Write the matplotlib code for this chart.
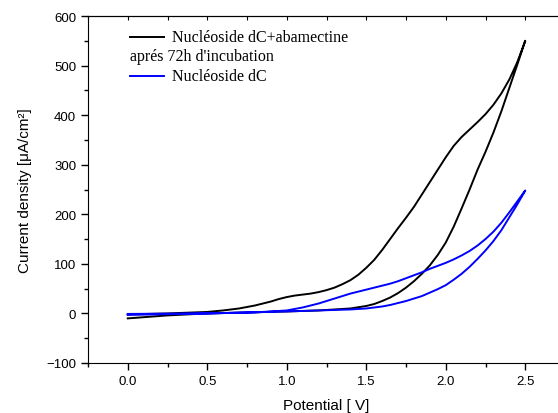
import matplotlib
matplotlib.use("Agg")
import matplotlib.pyplot as plt
from matplotlib.lines import Line2D
from matplotlib.ticker import MultipleLocator, FormatStrFormatter

# black loop: dC + abamectine after 72h (upper branch, then lower branch back)
black_up_x = [0.0, 0.25, 0.5, 0.6, 0.7, 0.8, 0.9, 0.95, 1.0, 1.05, 1.1, 1.15, 1.2, 1.25, 1.3, 1.35,
              1.4, 1.45, 1.5, 1.55, 1.6, 1.65, 1.7, 1.75, 1.8, 1.85, 1.9, 1.95, 2.0, 2.05, 2.1,
              2.15, 2.2, 2.25, 2.3, 2.35, 2.4, 2.45, 2.5]
black_up_y = [-2, 0, 3, 6, 10, 16, 24, 29, 33, 36, 38, 40, 43, 47, 52, 59,
              67, 78, 92, 108, 128, 150, 172, 193, 215, 240, 265, 290, 315, 338, 356,
              371, 386, 402, 421, 444, 472, 507, 550]
black_lo_x = [2.5, 2.45, 2.4, 2.35, 2.3, 2.25, 2.2, 2.15, 2.1, 2.05, 2.0, 1.95, 1.9, 1.85, 1.8,
              1.75, 1.7, 1.65, 1.6, 1.55, 1.5, 1.4, 1.3, 1.2, 1.0, 0.75, 0.5, 0.25, 0.0]
black_lo_y = [550, 502, 455, 408, 365, 326, 290, 250, 212, 175, 143, 118, 97, 80, 65,
              52, 41, 32, 25, 19, 15, 10, 8, 6, 4, 2, 0, -4, -10]

# blue loop: dC alone
blue_up_x = [0.0, 0.5, 0.8, 0.9, 1.0, 1.05, 1.1, 1.15, 1.2, 1.25, 1.3, 1.35, 1.4, 1.45, 1.5, 1.55,
             1.6, 1.65, 1.7, 1.75, 1.8, 1.85, 1.9, 1.95, 2.0, 2.05, 2.1, 2.15, 2.2, 2.25, 2.3,
             2.35, 2.4, 2.45, 2.5]
blue_up_y = [-1, 0, 2, 4, 6, 9, 12, 16, 20, 25, 30, 35, 40, 44, 48, 52,
             56, 60, 65, 71, 77, 83, 90, 96, 102, 109, 117, 126, 137, 150, 165,
             183, 204, 226, 248]
blue_lo_x = [2.5, 2.45, 2.4, 2.35, 2.3, 2.25, 2.2, 2.15, 2.1, 2.05, 2.0, 1.95, 1.9, 1.85, 1.8,
             1.75, 1.7, 1.65, 1.6, 1.5, 1.4, 1.2, 1.0, 0.5, 0.0]
blue_lo_y = [248, 220, 194, 168, 146, 127, 110, 94, 80, 68, 57, 49, 42, 35, 30,
             25, 21, 17, 14, 10, 8, 6, 4, 0, -3]

label_black_1 = "Nucléoside dC+abamectine"
label_black_2 = "aprés 72h d'incubation"
label_blue = "Nucléoside dC"

fig = plt.figure(figsize=(5.58, 4.14), dpi=100)
W, H = 558, 414
ax = fig.add_axes([88 / W, 1 - 364 / H, (565 - 88) / W, (364 - 17) / H])

ax.plot(black_up_x + black_lo_x, black_up_y + black_lo_y, color="black", lw=1.4)
ax.plot(blue_up_x + blue_lo_x, blue_up_y + blue_lo_y, color="#0000ff", lw=1.4)

ax.set_xlim(-0.25, 2.75)
ax.set_ylim(-100, 600)
ax.xaxis.set_major_locator(MultipleLocator(0.5))
ax.xaxis.set_minor_locator(MultipleLocator(0.25))
ax.yaxis.set_major_locator(MultipleLocator(100))
ax.yaxis.set_minor_locator(MultipleLocator(50))
ax.xaxis.set_major_formatter(FormatStrFormatter("%.1f"))

ax.tick_params(which="both", direction="out", labelsize=9.5, width=1,
               labelfontfamily="Liberation Sans", top=False, right=False)
ax.tick_params(which="major", length=5)
ax.tick_params(which="minor", length=3)
ax.spines["right"].set_visible(False)

# inward ticks on the top spine
top = ax.secondary_xaxis("top")
top.xaxis.set_major_locator(MultipleLocator(0.25))
top.tick_params(direction="in", length=3, labeltop=False)

ax.set_xlabel("Potential [ V]", fontsize=11, family="Liberation Sans", labelpad=8)
ax.set_ylabel("Current density [μA/cm²]", fontsize=11, family="Liberation Sans", labelpad=10)

# legend built by hand
serif = dict(fontsize=11.5, family="Liberation Serif", va="center")
fig.add_artist(Line2D([130 / W, 164 / W], [1 - 38 / H] * 2, color="black", lw=1.4))
fig.text(172 / W, 1 - 38 / H, label_black_1, **serif)
fig.text(130 / W, 1 - 57 / H, label_black_2, **serif)
fig.add_artist(Line2D([130 / W, 164 / W], [1 - 77 / H] * 2, color="#0000ff", lw=1.4))
fig.text(172 / W, 1 - 77 / H, label_blue, **serif)

fig.savefig("out.png", dpi=100)
